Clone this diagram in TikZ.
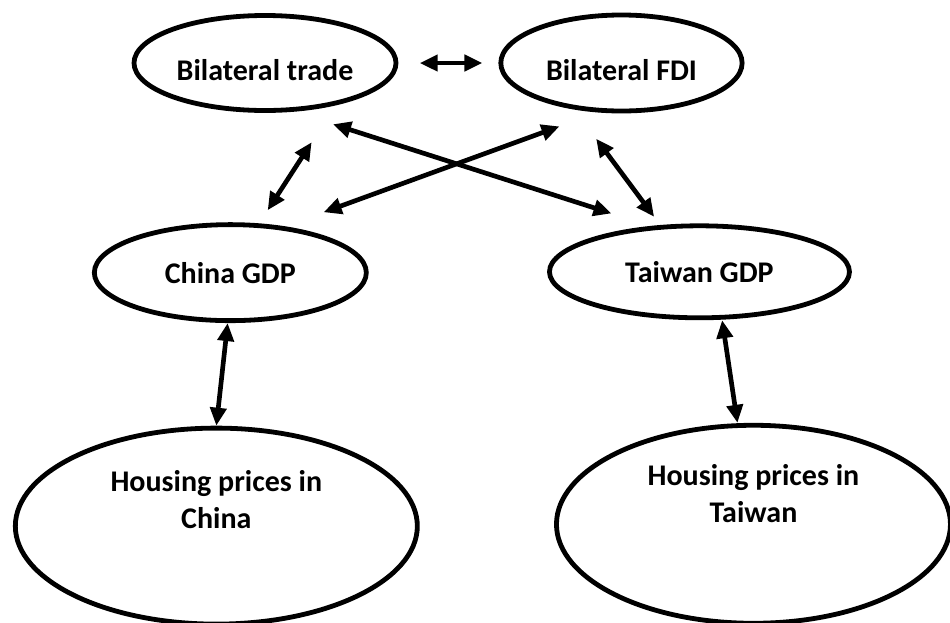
\documentclass[tikz,border=0pt]{standalone}
\usepackage{fontspec}
\setmainfont{Carlito}
\usetikzlibrary{arrows.meta,positioning,shapes.geometric}

\begin{document}
\begin{tikzpicture}[x=0.75pt,y=-0.75pt,node distance=82pt,
font=\fontsize{22.5pt}{28pt}\selectfont\bfseries,
v/.style={draw,ellipse,line width=3.6pt,inner sep=0pt,align=center},
link/.style={{Triangle[length=13.5pt,width=12pt]}-{Triangle[length=13.5pt,width=12pt]},line width=3.5pt}]
\useasboundingbox (0,0) rectangle (950,622);
\node[v,minimum width=196.5pt,minimum height=71.25pt,text height=26pt,text depth=0pt] (trade) at (265,63) {Bilateral trade};
\node[v,minimum width=181pt,minimum height=72pt,text height=26pt,text depth=0pt,right=75pt of trade] (fdi) {Bilateral FDI};
\node[v,minimum width=204pt,minimum height=72pt,below=82pt of trade,xshift=-26pt] (cgdp) {China GDP};
\node[v,minimum width=225pt,minimum height=69pt,below=82.5pt of fdi,xshift=58.5pt] (tgdp) {Taiwan GDP};
\node[v,minimum width=301.5pt,minimum height=147pt,text depth=40pt,below=77pt of cgdp,xshift=-10.5pt] (chouse) {Housing prices in\\China};
\node[v,minimum width=295.5pt,minimum height=148.5pt,text depth=46pt,below=77pt of tgdp,xshift=40.5pt] (thouse) {Housing prices in\\Taiwan};
\draw[link] ([xshift=16pt]trade.east) -- ([xshift=-12pt]fdi.west);
\draw[link] ([xshift=35pt,yshift=-22pt]trade.south) -- ([xshift=28pt,yshift=9pt]cgdp.north);
\draw[link] ([xshift=-19pt,yshift=-19pt]fdi.south) -- ([xshift=-34pt,yshift=5pt]tgdp.north);
\draw[link] ([xshift=51pt,yshift=-8.5pt]trade.south) -- ([xshift=-66pt,yshift=7.5pt]tgdp.north);
\draw[link] ([xshift=-46.5pt,yshift=-9.75pt]fdi.south) -- ([xshift=70pt,yshift=7.5pt]cgdp.north);
\draw[link] ([xshift=-2pt]cgdp.south) -- (chouse.north);
\draw[link] ([xshift=17pt]tgdp.south) -- ([xshift=-12pt]thouse.north);
\end{tikzpicture}
\end{document}
